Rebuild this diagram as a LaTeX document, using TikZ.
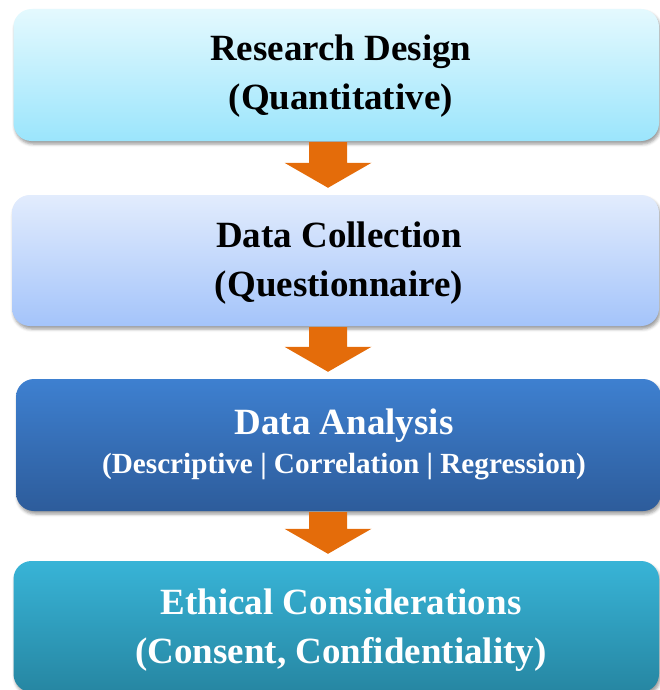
\documentclass[tikz,border=0pt]{standalone}
\usepackage{fontspec}
\setmainfont{Liberation Serif}
\usetikzlibrary{calc,shadows.blur}
\definecolor{c1t}{RGB}{228,249,254}
\definecolor{c1b}{RGB}{155,229,252}
\definecolor{c2t}{RGB}{226,236,253}
\definecolor{c2b}{RGB}{164,196,250}
\definecolor{c3t}{RGB}{62,128,208}
\definecolor{c3b}{RGB}{45,92,155}
\definecolor{c4t}{RGB}{56,180,215}
\definecolor{c4b}{RGB}{38,134,162}
\definecolor{arrowc}{RGB}{228,108,10}
\begin{document}
\begin{tikzpicture}[x=1pt,y=1pt,
  box/.style={rounded corners=18pt, inner sep=0pt,
    blur shadow={shadow xshift=1.5pt, shadow yshift=-3pt, shadow blur radius=3pt, shadow opacity=40}},
  txt/.style={inner sep=0pt, align=center, font=\fontsize{37}{49}\selectfont\bfseries},
  flow/.style={fill=arrowc}]
\useasboundingbox (0,0) rectangle (660,-690);
\coordinate (ax) at (328,0);
\node[box, minimum width=645.5pt, minimum height=132pt, top color=c1t, bottom color=c1b] (b1) at (336.25,-75) {};
\node[box, minimum width=647pt, minimum height=131pt, top color=c2t, bottom color=c2b] (b2) at (335.5,-260.5) {};
\node[box, minimum width=645pt, minimum height=132pt, top color=c3t, bottom color=c3b] (b3) at (338.5,-445) {};
\node[box, minimum width=645.5pt, minimum height=131pt, top color=c4t, bottom color=c4b] (b4) at (336.25,-626.5) {};
\node[txt, text=black] (t1) at ($(b1.center)+(4.5,-1)$) {Research Design\\(Quantitative)};
\node[txt, text=black] (t2) at ($(b2.center)+(3.5,-3)$) {Data Collection\\(Questionnaire)};
\node[txt, text=white] (t3) at ($(b3.center)+(5.5,0.5)$)
  {Data Analysis\\[-10pt]{\fontsize{29.2}{34}\selectfont(Descriptive | Correlation | Regression)}};
\node[txt, text=white] (t4) at ($(b4.center)+(4.75,-4)$) {Ethical Considerations\\(Consent, Confidentiality)};
\foreach \a/\b in {b1/b2,b2/b3,b3/b4}{
  \fill[flow] let \p1=(\a.south -| ax), \p2=(\b.north -| ax) in
    (\x1-19pt,\y1-1pt) -- (\x1+19pt,\y1-1pt) -- (\x1+19pt,\y2+32pt) -- (\x1+43.5pt,\y2+32pt)
    -- (\x1,\y2+7pt) -- (\x1-43.5pt,\y2+32pt) -- (\x1-19pt,\y2+32pt) -- cycle;
}
\end{tikzpicture}
\end{document}
